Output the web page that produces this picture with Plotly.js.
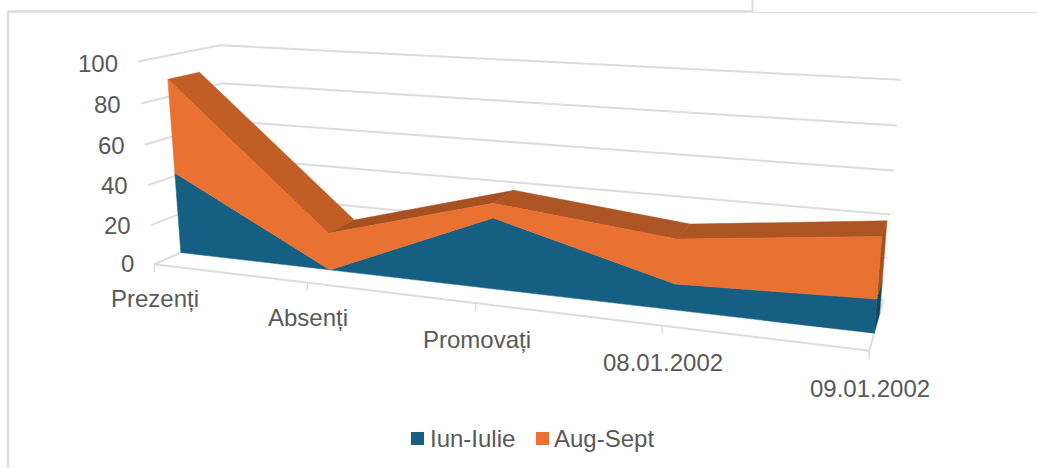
<!DOCTYPE html>
<html>
<head>
<meta charset="utf-8">
<script src="https://cdn.plot.ly/plotly-3.0.1.min.js"></script>
<style>html,body{margin:0;padding:0;background:#fff}#chart{width:1037px;height:468px}</style>
</head>
<body>
<div id="chart"></div>
<script>
// ---- chart values ----
const categories = ['Prezenți', 'Absenți', 'Promovați', '08.01.2002', '09.01.2002'];
const iunIulie = [41.5, 0, 34, 12, 15];
const augSept = [47, 18.5, 7, 20.5, 27];
const valueTicks = [0, 20, 40, 60, 80, 100];
const seriesNames = ['Iun-Iulie', 'Aug-Sept'];

// ---- look of the oblique 3-D view ----
const gridColor = '#DCDCDC', textColor = '#595959';
const blue = '#156082', orange = '#E97132';
const topColors = ['#C15E26', '#A85120', '#AD5524', '#AD5423'];
const sideColors = ['#0F4760', '#A85120'];
const depthFront = 0.32, depthBack = 0.71;

// Camera calibration: [category position, value/100, depth] -> pixel position
const calibration = [
  [0,0,0,155,262],[.25,0,0,307,283],[.5,0,0,475,304],[.75,0,0,662,326],[1,0,0,870,352],
  [0,.2,0,151,224],[0,.4,0,148,184],[0,.6,0,145,145],[0,.8,0,141,104],[0,1,0,138,63],
  [0,1,1,220,44],[0,.8,1,222.5,82],[0,0,1,232,234],
  [1,0,1,883,298],[1,.2,1,887,257],[1,.4,1,890,213],[1,.6,1,894,171],[1,.8,1,897,126],[1,1,1,901,81]
];
function solveCamera(rows) {
  const n = 11, A = Array.from({length:n},()=>new Array(n+1).fill(0));
  const add = (r, t) => { for (let i=0;i<n;i++){ for(let j=0;j<n;j++) A[i][j]+=r[i]*r[j]; A[i][n]+=r[i]*t; } };
  rows.forEach(([u,v,d,x,y]) => {
    add([u,v,d,1,0,0,0,0,-x*u,-x*v,-x*d], x);
    add([0,0,0,0,u,v,d,1,-y*u,-y*v,-y*d], y);
  });
  for (let c=0;c<n;c++){
    let p=c; for(let r=c+1;r<n;r++) if(Math.abs(A[r][c])>Math.abs(A[p][c])) p=r;
    [A[c],A[p]]=[A[p],A[c]];
    for(let r=0;r<n;r++){ if(r===c) continue; const f=A[r][c]/A[c][c]; for(let k=c;k<=n;k++) A[r][k]-=f*A[c][k]; }
  }
  return A.map((row,i)=>row[n]/row[i]);
}
const cam = solveCamera(calibration);
const lastCat = categories.length - 1;
function project(cat, value, depth) {
  const u = cat / lastCat, v = value / 100, d = depth;
  const w = cam[8]*u + cam[9]*v + cam[10]*d + 1;
  return [(cam[0]*u+cam[1]*v+cam[2]*d+cam[3])/w, (cam[4]*u+cam[5]*v+cam[6]*d+cam[7])/w];
}
function polyTrace(points, color, name) {
  const xy = points.map(p => project(p[0], p[1], p[2]));
  xy.push(xy[0]);
  return { type:'scatter', mode:'lines', x:xy.map(p=>p[0]), y:xy.map(p=>p[1]), fill:'toself', fillcolor:color,
           line:{color:color, width:0.5}, hoverinfo:'skip', showlegend:false, name:name };
}
function lineTrace(segments, width) {
  const x=[], y=[];
  segments.forEach(seg => { seg.forEach(p => { const q=project(p[0],p[1],p[2]); x.push(q[0]); y.push(q[1]); }); x.push(null); y.push(null); });
  return { type:'scatter', mode:'lines', x, y, line:{color:gridColor, width}, hoverinfo:'skip', showlegend:false };
}

const totals = iunIulie.map((v,i) => v + augSept[i]);
const idx = categories.map((_,i) => i);
const traces = [];

// walls
traces.push(lineTrace(valueTicks.map(t => [[0,t,0],[0,t,1],[lastCat,t,1]]), 2));
traces.push(lineTrace([[[0,0,0],[lastCat,0,0]], [[lastCat,0,0],[lastCat,0,1]]], 2));

// top faces of the stack
for (let i=0;i<lastCat;i++) {
  traces.push(polyTrace([[i,totals[i],depthFront],[i+1,totals[i+1],depthFront],[i+1,totals[i+1],depthBack],[i,totals[i],depthBack]], topColors[i], seriesNames[1]+' top'));
}
// side faces at the last category
traces.push(polyTrace([[lastCat,0,depthFront],[lastCat,iunIulie[lastCat],depthFront],[lastCat,iunIulie[lastCat],depthBack],[lastCat,0,depthBack]], sideColors[0], seriesNames[0]+' side'));
traces.push(polyTrace([[lastCat,iunIulie[lastCat],depthFront],[lastCat,totals[lastCat],depthFront],[lastCat,totals[lastCat],depthBack],[lastCat,iunIulie[lastCat],depthBack]], sideColors[1], seriesNames[1]+' side'));
// front faces
traces.push(polyTrace(idx.map(i=>[i,0,depthFront]).concat(idx.slice().reverse().map(i=>[i,iunIulie[i],depthFront])), blue, seriesNames[0]));
traces.push(polyTrace(idx.map(i=>[i,iunIulie[i],depthFront]).concat(idx.slice().reverse().map(i=>[i,totals[i],depthFront])), orange, seriesNames[1]));

// category ticks
const tickLen = 8;
const tx=[], ty=[];
idx.forEach(i => { const p=project(i,0,0); tx.push(p[0],p[0],null); ty.push(p[1],p[1]+tickLen,null); });
traces.push({type:'scatter',mode:'lines',x:tx,y:ty,line:{color:gridColor,width:1.5},hoverinfo:'skip',showlegend:false});

// legend swatches
const legendX = [417.5, 542.5], legendTextX = [428.5, 553], legendY = 438.5;
seriesNames.forEach((n,i) => traces.push({type:'scatter',mode:'markers',x:[legendX[i]],y:[legendY],
  marker:{symbol:'square',size:13,color:[blue,orange][i]},name:n,hoverinfo:'skip',showlegend:false}));

const font = {family:'"Liberation Sans", Arial, sans-serif', size:24, color:textColor};
const annotations = [];
valueTicks.forEach(t => { const p=project(0,t,0);
  annotations.push({x:p[0]-19,y:p[1]-0.5+0.025*t,text:String(t),showarrow:false,xanchor:'right',yanchor:'middle',font}); });
categories.forEach((c,i) => { const p=project(i,0,0);
  annotations.push({x:p[0]+1,y:p[1]+34+i,text:c,showarrow:false,xanchor:'center',yanchor:'middle',font}); });
seriesNames.forEach((n,i) => annotations.push({x:legendTextX[i],y:legendY,text:n,showarrow:false,xanchor:'left',yanchor:'middle',font}));
annotations.forEach(a => { a.xref='x'; a.yref='y'; a.borderpad=0; });

const frameLine = (x0,y0,x1,y1,w) => ({type:'line',xref:'x',yref:'y',x0,y0,x1,y1,line:{color:'#DDDDDD',width:w},layer:'below'});
const layout = {
  width:1037, height:468, margin:{l:0,r:0,t:0,b:0}, paper_bgcolor:'#fff', plot_bgcolor:'#fff',
  xaxis:{range:[0,1037],visible:false,fixedrange:true},
  yaxis:{range:[468,0],visible:false,fixedrange:true},
  showlegend:false, hovermode:false, annotations,
  shapes:[frameLine(8,11.5,752,11.5,2.5), frameLine(8,11,8,468,2.5), frameLine(752.5,0,752.5,12,2), frameLine(752,12.5,1037,12.5,1.2)]
};
Plotly.newPlot('chart', traces, layout, {staticPlot:true, displayModeBar:false});
</script>
</body>
</html>
